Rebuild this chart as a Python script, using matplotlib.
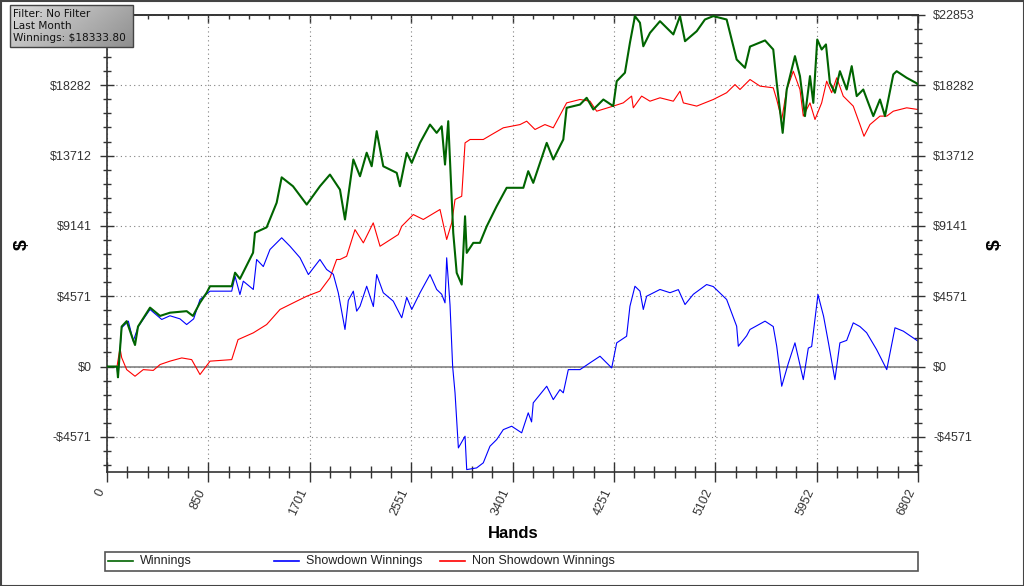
import numpy as np
import matplotlib
matplotlib.use("Agg")
import matplotlib.pyplot as plt
from matplotlib.ticker import MultipleLocator, FuncFormatter
from matplotlib.lines import Line2D
from matplotlib.patches import Rectangle

plt.rcParams.update({
    "font.family": ["Liberation Sans", "DejaVu Sans"],
    "font.size": 9,
})

# Winnings (green)
win_hands = [0, 84, 92, 123, 165, 218, 235, 260, 361, 445, 528, 668, 721, 780, 836, 864,
             1046, 1074, 1115, 1225, 1241, 1339, 1423, 1465, 1560, 1675, 1786, 1870, 1954,
             1996, 2066, 2122, 2178, 2220, 2262, 2317, 2430, 2457, 2514, 2556, 2625, 2709,
             2765, 2807, 2835, 2862, 2904, 2933, 2975, 3003, 3017, 3072, 3128, 3185, 3268,
             3352, 3492, 3533, 3575, 3688, 3743, 3827, 3855, 3967, 4023, 4079, 4163, 4246,
             4275, 4344, 4386, 4428, 4470, 4498, 4554, 4638, 4750, 4806, 4848, 4946, 5015,
             5085, 5197, 5281, 5351, 5393, 5519, 5588, 5617, 5667, 5701, 5770, 5812, 5854,
             5896, 5924, 5957, 5994, 6030, 6063, 6105, 6147, 6204, 6246, 6288, 6343, 6385,
             6427, 6483, 6525, 6553, 6595, 6623, 6707, 6785, 6802]
win_vals = [0, 0, -700, 2600, 2950, 1750, 1400, 2600, 3830, 3290, 3500, 3600, 3290, 4150, 4800,
            5220, 5220, 6100, 5700, 7400, 8700, 9050, 10650, 12300, 11720, 10530, 11720, 12480,
            11500, 9560, 13460, 12370, 13900, 13020, 15300, 13020, 12590, 11720, 13890, 13240,
            14540, 15730, 15190, 15620, 13130, 15950, 8690, 6090, 5330, 9770, 7390, 8040, 8040,
            9120, 10420, 11620, 11620, 12700, 11940, 14540, 13460, 14760, 16820, 17030, 17470,
            16710, 17360, 16930, 18550, 19100, 21050, 22780, 22350, 20820, 21690, 22450, 21590,
            22780, 21150, 21800, 22560, 22780, 22560, 19960, 19420, 20800, 21200, 20610, 18440,
            15190, 18010, 20180, 18880, 16280, 18880, 17140, 21260, 20610, 20940, 18440, 17800,
            19200, 18010, 19530, 17580, 18010, 17140, 16280, 17360, 16280, 17360, 18990, 19200,
            18770, 18440, 18334]

# Showdown winnings (blue)
sd_hands = [0, 84, 92, 123, 179, 220, 262, 361, 459, 528, 612, 668, 727, 780, 864, 1046,
            1074, 1115, 1143, 1227, 1255, 1311, 1367, 1465, 1535, 1619, 1689, 1786, 1842,
            1898, 1940, 1996, 2024, 2066, 2094, 2122, 2178, 2234, 2262, 2317, 2401, 2472,
            2514, 2556, 2625, 2709, 2765, 2807, 2835, 2849, 2877, 2899, 2919, 2947, 3003,
            3017, 3100, 3156, 3212, 3268, 3324, 3394, 3478, 3533, 3561, 3575, 3688, 3743,
            3799, 3827, 3869, 3967, 4051, 4135, 4233, 4275, 4358, 4386, 4428, 4470, 4498,
            4526, 4638, 4722, 4792, 4848, 4918, 5029, 5085, 5197, 5281, 5295, 5365, 5393,
            5519, 5588, 5617, 5659, 5714, 5770, 5840, 5882, 5910, 5963, 6010, 6052, 6105,
            6147, 6204, 6259, 6315, 6371, 6455, 6540, 6609, 6679, 6802]
sd_vals = [0, 0, -700, 2520, 2950, 1650, 2600, 3710, 3060, 3300, 3100, 2730, 3100, 4360, 4900,
           4900, 5870, 4680, 5550, 5010, 6960, 6500, 7610, 8370, 7820, 7070, 5980, 6960, 6310,
           6000, 4790, 2410, 4300, 4900, 3600, 3920, 5220, 3900, 5980, 4800, 4250, 3170, 4500,
           3710, 4790, 5980, 5010, 4700, 4140, 7070, 4000, 0, -1710, -5290, -4530, -6700,
           -6590, -6260, -5180, -4750, -4100, -3880, -4310, -3010, -3600, -2360, -1280, -2150,
           -1500, -1710, -200, -200, 240, 670, -90, 1540, 1970, 3920, 5220, 4900, 3710, 4570,
           5010, 4800, 5000, 4030, 4700, 5330, 5200, 4360, 2620, 1320, 2000, 2410, 2950, 2600,
           1320, -1280, 200, 1540, -850, 1200, 1300, 4680, 3270, 1500, -850, 1540, 1700, 2840,
           2600, 2200, 1100, -200, 2520, 2300, 1650]

# Non showdown winnings (red)
nsd_hands = [0, 84, 109, 123, 165, 235, 304, 388, 445, 528, 627, 710, 780, 864, 1046, 1099,
             1227, 1339, 1451, 1591, 1675, 1786, 1870, 1926, 1954, 2010, 2080, 2150, 2233,
             2290, 2443, 2472, 2569, 2653, 2793, 2849, 2891, 2919, 2975, 3003, 3045, 3156,
             3226, 3324, 3464, 3520, 3590, 3673, 3743, 3855, 3967, 4051, 4107, 4246, 4330,
             4400, 4414, 4484, 4554, 4638, 4750, 4806, 4834, 4946, 5085, 5197, 5267, 5309,
             5393, 5477, 5588, 5617, 5659, 5701, 5756, 5812, 5840, 5896, 5938, 5994, 6036,
             6078, 6120, 6175, 6259, 6315, 6349, 6399, 6483, 6540, 6595, 6707, 6802]
nsd_vals = [0, 0, 1200, 580, -200, -630, -200, -250, 130, 350, 560, 450, -520, 350, 450, 1750,
            2190, 2730, 3710, 4250, 4570, 4900, 5770, 6960, 6960, 7170, 8900, 8040, 9340, 7820,
            8580, 9120, 9880, 9560, 10210, 8260, 9340, 10860, 11070, 14540, 14760, 14760, 15080,
            15520, 15730, 15950, 15410, 15730, 15520, 17140, 17360, 17250, 16600, 16930, 17140,
            17580, 16820, 17580, 17250, 17470, 17250, 17900, 17140, 16930, 17360, 17800, 18330,
            18010, 18660, 18230, 18120, 17360, 16060, 18010, 19200, 18010, 16280, 17140, 16060,
            17140, 18550, 17800, 18770, 17580, 16930, 15730, 14970, 15730, 16280, 16280, 16600,
            16820, 16710]

info_lines = ["Filter: No Filter", "Last Month", "Winnings: $18333.80"]
legend_labels = ["Winnings", "Showdown Winnings", "Non Showdown Winnings"]
series_colors = ["#006400", "#0000ff", "#ff0000"]

total_hands = 6802
y_top = 22853
y_step = y_top / 5
x_step = total_hands / 8

W, H = 1024, 586
fig = plt.figure(figsize=(W / 100, H / 100), dpi=100)
fig.patch.set_facecolor("white")

ax = fig.add_axes([107 / W, 1 - 472 / H, 811 / W, 457 / H])

ax.axhline(0, color="#8c8c8c", linewidth=1.3, zorder=1)
ax.plot(win_hands, win_vals, color=series_colors[0], linewidth=1.5, zorder=3)
ax.plot(nsd_hands, nsd_vals, color=series_colors[2], linewidth=0.8, zorder=2)
ax.plot(sd_hands, sd_vals, color=series_colors[1], linewidth=0.8, zorder=2)

ax.set_xlim(0, total_hands)
ax.set_ylim(-1.5 * y_step, y_top)

ax.xaxis.set_major_locator(MultipleLocator(x_step))
ax.xaxis.set_minor_locator(MultipleLocator(x_step / 5))
ax.yaxis.set_major_locator(MultipleLocator(y_step))
ax.yaxis.set_minor_locator(MultipleLocator(y_step / 5))


def money(v, pos):
    v = int(np.floor(v + 0.5))
    return f"-${abs(v)}" if v < 0 else f"${v}"


ax.yaxis.set_major_formatter(FuncFormatter(money))
ax.xaxis.set_major_formatter(FuncFormatter(lambda v, p: f"{int(np.floor(v + 0.5))}"))

ax.tick_params(axis="y", which="major", direction="inout", length=10, width=1,
               left=True, right=True, labelleft=True, labelright=True,
               labelsize=9, colors="#333333", pad=6)
ax.tick_params(axis="y", which="minor", direction="inout", length=6, width=1,
               left=True, right=True, colors="#333333")
ax.tick_params(axis="x", which="major", direction="inout", length=14, width=1,
               bottom=True, top=False, labelsize=9, colors="#333333", pad=4)
ax.tick_params(axis="x", which="minor", direction="inout", length=8, width=1,
               bottom=True, top=False, colors="#333333")

# inward ticks along the top edge
top = ax.secondary_xaxis("top")
top.xaxis.set_major_locator(MultipleLocator(x_step))
top.xaxis.set_minor_locator(MultipleLocator(x_step / 5))
top.tick_params(which="major", direction="in", length=6, width=1, colors="#333333",
                labeltop=False)
top.tick_params(which="minor", direction="in", length=3, width=1, colors="#333333")
top.spines["top"].set_color("#333333")
top.spines["top"].set_linewidth(1.2)

for lab in ax.get_xticklabels():
    lab.set_rotation(65)
    lab.set_ha("right")
    lab.set_va("top")

ax.grid(True, which="major", linestyle=(0, (1, 3)), color="#808080", linewidth=0.8)
for sp in ax.spines.values():
    sp.set_color("#333333")
    sp.set_linewidth(1.2)

fig.text(513 / W, 1 - 534 / H, "Hands", ha="center", va="center",
         fontsize=12, fontweight="bold")
fig.text(22 / W, 1 - 245 / H, "$", ha="center", va="center", rotation=90,
         fontsize=14, fontweight="bold")
fig.text(995 / W, 1 - 245 / H, "$", ha="center", va="center", rotation=90,
         fontsize=14, fontweight="bold")

# legend strip
fig.add_artist(Rectangle((105 / W, 1 - 571 / H), 813 / W, 19 / H, transform=fig.transFigure,
                         facecolor="white", edgecolor="#555555", linewidth=1.2))
for i, (lab, col) in enumerate(zip(legend_labels, series_colors)):
    x0 = 108 + i * 166
    fig.add_artist(Line2D([x0 / W, (x0 + 25) / W], [1 - 561 / H] * 2,
                          transform=fig.transFigure, color=col, linewidth=1.2))
    fig.text((x0 + 32) / W, 1 - 561 / H, lab, ha="left", va="center", fontsize=9,
             color="#222222")

# info box with gradient
bx, by, bw, bh = 10 / W, 1 - 47 / H, 123 / W, 42 / H
box = fig.add_axes([bx, by, bw, bh])
gx, gy = np.meshgrid(np.linspace(0, 1, 120), np.linspace(0, 1, 40))
grad = 0.86 - 0.30 * (0.7 * gx + 0.3 * gy)
box.imshow(grad, cmap="gray", vmin=0, vmax=1, aspect="auto", extent=(0, 1, 0, 1))
box.axis("off")
fig.add_artist(Rectangle((bx, by), bw, bh, transform=fig.transFigure,
                         facecolor="none", edgecolor="#444444", linewidth=1))
fig.text(bx + 3 / W, by + bh / 2, "\n".join(info_lines), ha="left", va="center",
         fontsize=7.6, linespacing=1.2, color="#111111", family="DejaVu Sans")

# outer frame
fig.add_artist(Rectangle((0.5 / W, 0.5 / H), 1 - 1 / W, 1 - 1 / H, transform=fig.transFigure,
                         facecolor="none", edgecolor="#444444", linewidth=1.5))

fig.savefig("out.png", dpi=100)
